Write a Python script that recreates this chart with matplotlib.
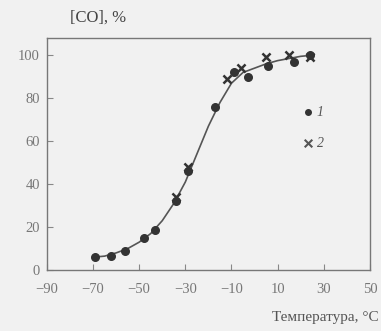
import matplotlib
matplotlib.use("Agg")
import matplotlib.pyplot as plt

# Series 1 (dots)
t1 = [-69, -62, -56, -48, -43, -34, -29, -17, -9, -3, 6, 17, 24]
c1 = [6, 6.5, 9, 15, 18.5, 32, 46, 76, 92, 90, 95, 97, 100]
# Series 2 (crosses)
t2 = [-34, -29, -12, -6, 5, 15, 24]
c2 = [34, 48, 89, 94, 99, 100, 99]
# Smooth curve
tc = [-70, -65, -60, -55, -50, -45, -40, -35, -30, -25, -20, -15, -10, -5, 0, 5, 10, 15, 20, 25]
cc = [6, 6.5, 8, 10, 13, 17, 23, 31, 41, 54, 67, 78, 87, 92, 94, 96, 97.5, 98.5, 99.5, 100]

xticks = [-90, -70, -50, -30, -10, 10, 30, 50]
xtick_labels = ["−90", "−70", "−50", "−30", "−10", "10", "30", "50"]
yticks = [0, 20, 40, 60, 80, 100]

serif = ["Liberation Serif", "DejaVu Serif"]
bg = "#f1f1f1"
fig = plt.figure(figsize=(3.81, 3.31), dpi=100, facecolor=bg)
ax = fig.add_axes([0.123, 0.184, 0.848, 0.701], facecolor=bg)

ax.plot(tc, cc, color="#555555", lw=1.2, zorder=1)
ax.scatter(t1, c1, s=30, color="#333333", marker="o", zorder=3)
ax.scatter(t2, c2, s=34, color="#333333", marker="x", linewidths=1.8, zorder=3)

# legend drawn in data space
ax.scatter([23], [73.5], s=16, color="#333333", marker="o")
ax.scatter([23], [59], s=30, color="#555555", marker="x", linewidths=1.5)
ax.text(27, 73.5, "1", fontsize=10, style="italic", family=serif, color="#555555", va="center")
ax.text(27, 59, "2", fontsize=10, style="italic", family=serif, color="#555555", va="center")

ax.set_xlim(-90, 50)
ax.set_ylim(0, 108)
ax.set_xticks(xticks)
ax.set_xticklabels(xtick_labels)
ax.set_yticks(yticks)
ax.tick_params(direction="in", length=4, width=0.8, colors="#888888", labelsize=10.5,
               labelcolor="#777777")
ax.tick_params(axis="x", pad=9)
ax.tick_params(axis="y", pad=5)
for lab in ax.get_xticklabels() + ax.get_yticklabels():
    lab.set_family(serif)
for sp in ax.spines.values():
    sp.set_color("#777777")
    sp.set_linewidth(1.0)

fig.text(0.184, 0.946, "[CO], %", fontsize=12, family=serif, color="#444444", va="center")
fig.text(0.995, 0.04, "Температура, °C", fontsize=11, family=serif, color="#555555",
         ha="right", va="center")

fig.savefig("out.png", dpi=100, facecolor=bg)
